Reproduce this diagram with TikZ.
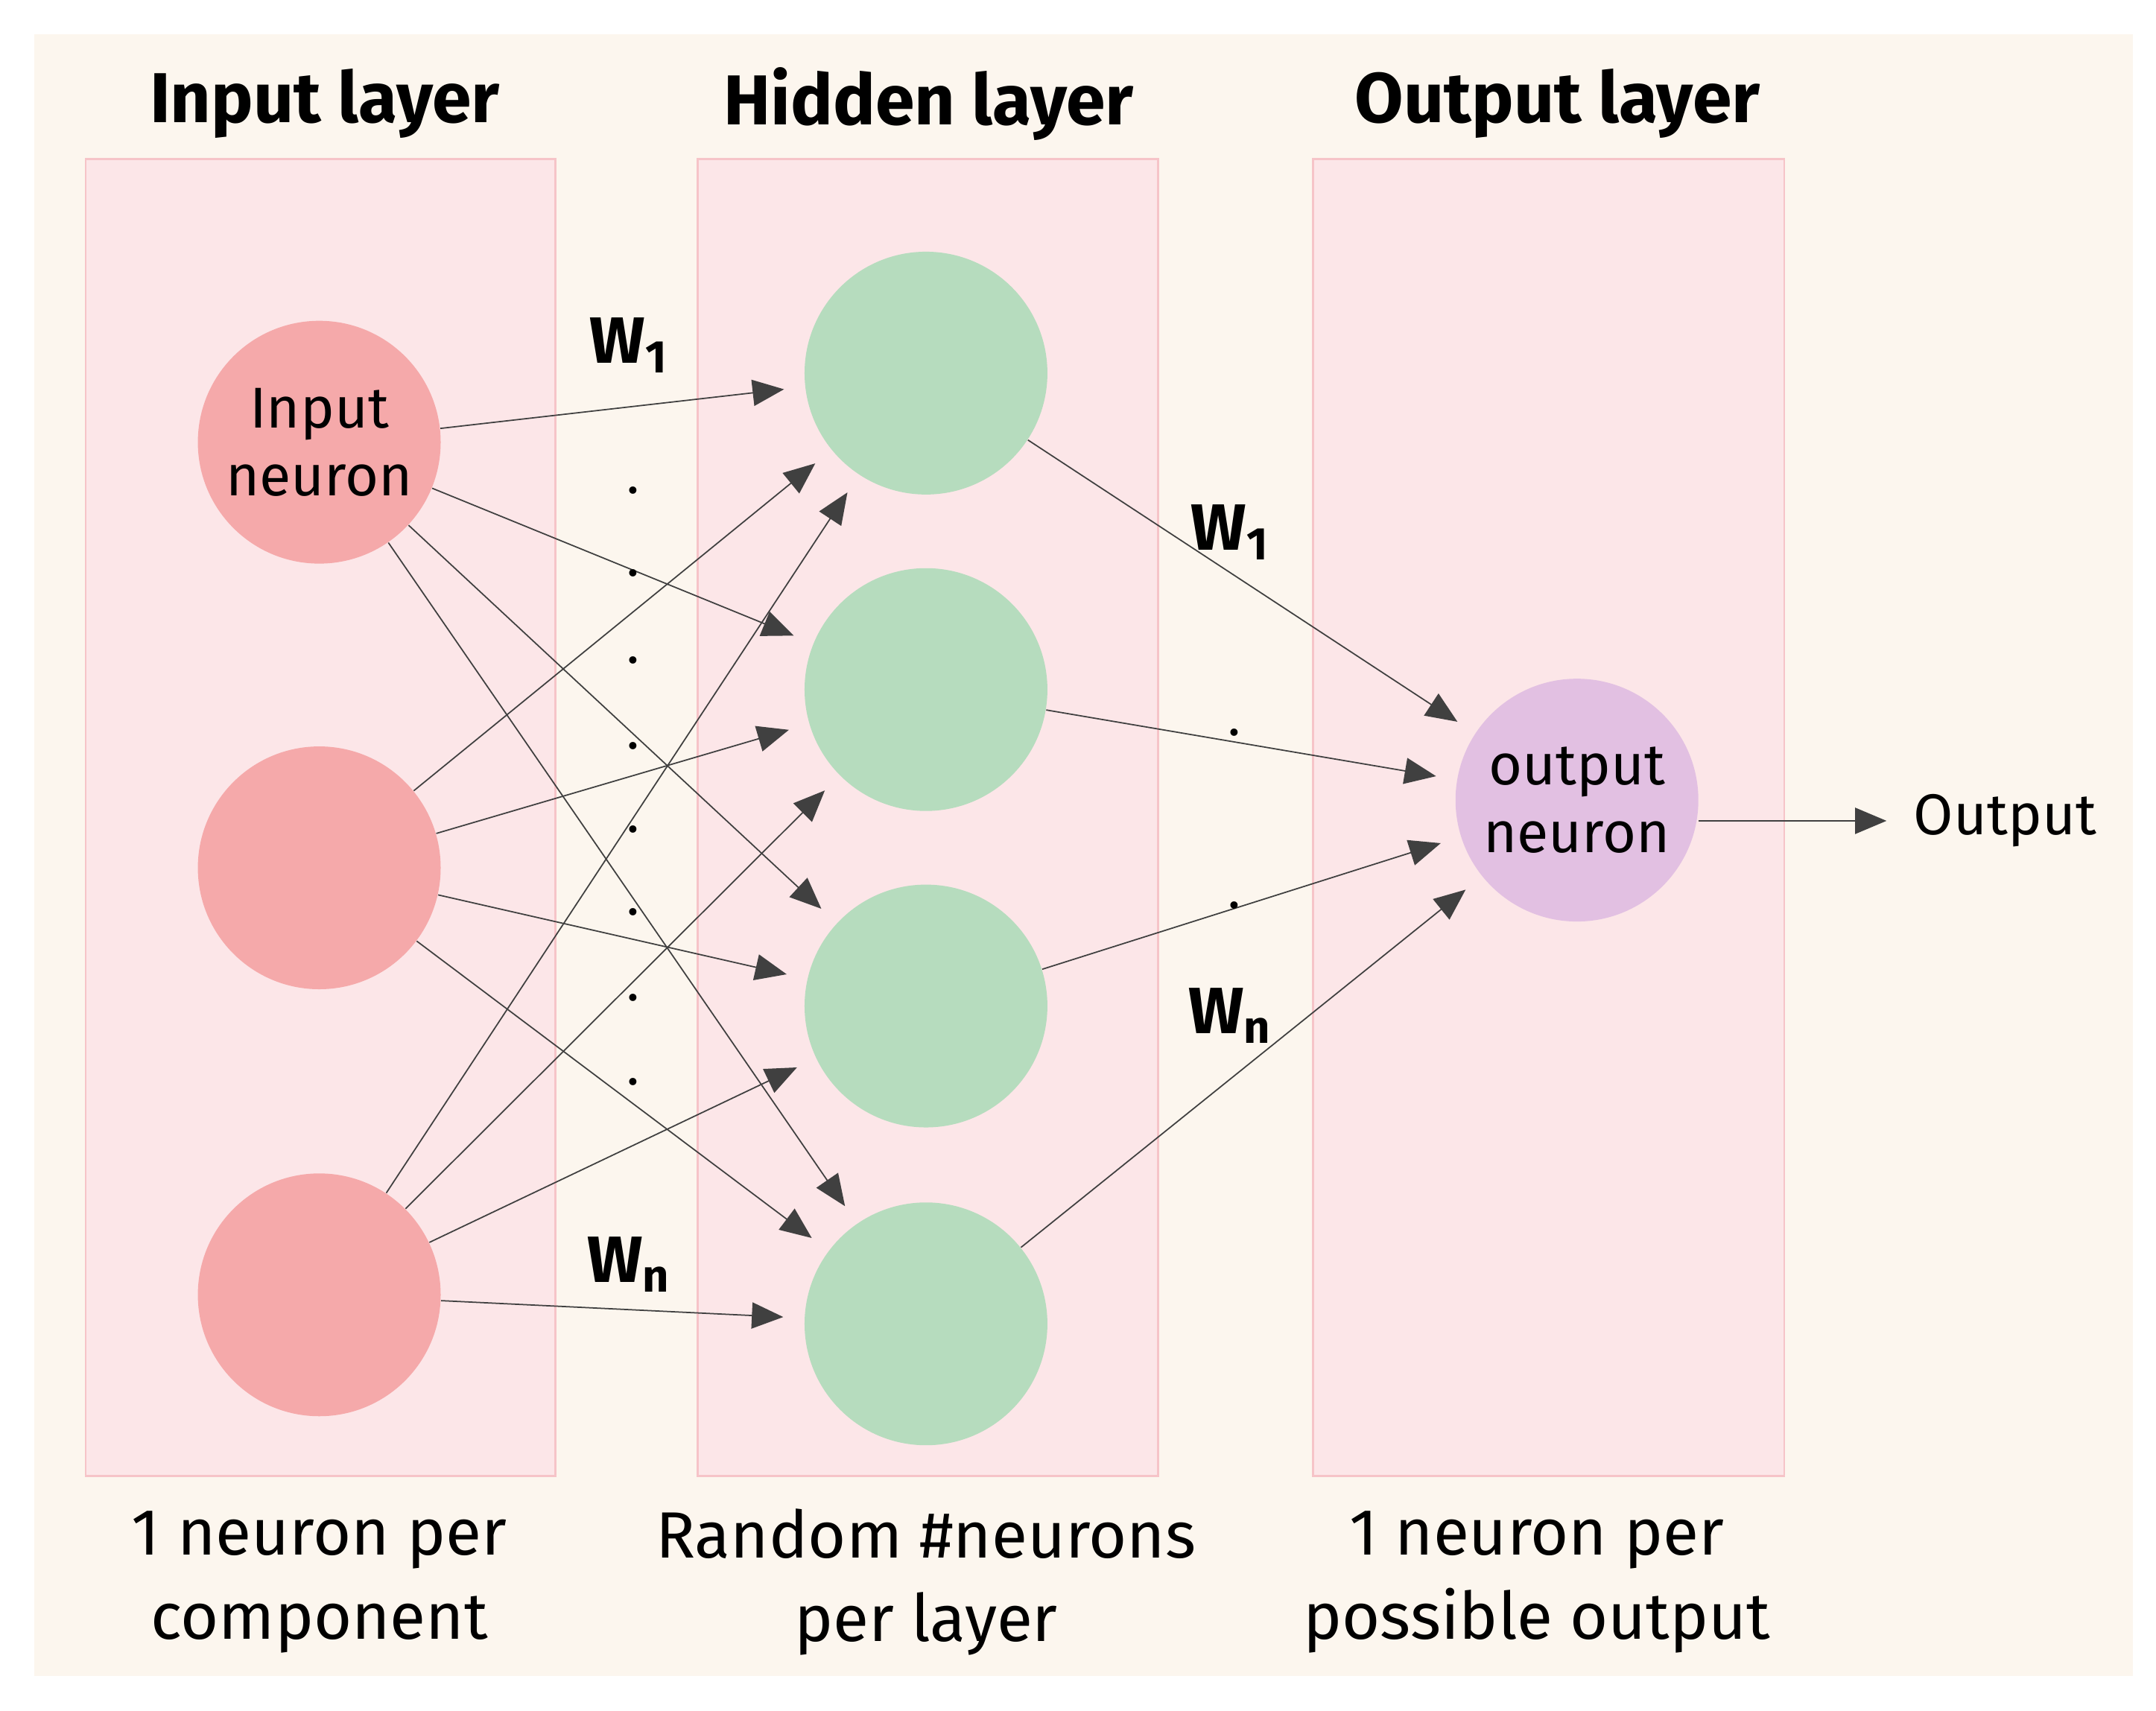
\documentclass[tikz,border=0pt]{standalone}
\usepackage{fontspec}
\setmainfont{Fira Sans}
\usetikzlibrary{arrows.meta}
\definecolor{cream}{HTML}{FCF6EE}
\definecolor{panel}{HTML}{FCE6E8}
\definecolor{panelb}{HTML}{F6C4C8}
\definecolor{inn}{HTML}{F5A9AA}
\definecolor{hid}{HTML}{B6DCBE}
\definecolor{outn}{HTML}{E2C0E2}
\tikzset{
 panel/.style={fill=panel,draw=panelb,line width=0.8pt},
 neu/.style={circle,minimum size=3.26cm,inner sep=0pt,align=center,font=\fontsize{22}{26}\selectfont},
 con/.style={draw=black!75,line width=0.5pt,-{Triangle[length=12pt,width=10pt]},shorten >=8pt},
 ttl/.style={font=\bfseries\fontsize{27}{32}\selectfont},
 captxt/.style={align=center,font=\fontsize{25}{32}\selectfont},
 wl/.style={font=\bfseries\fontsize{25}{30}\selectfont},
 dot/.style={font=\fontsize{20}{20}\selectfont}
}
\begin{document}
\begin{tikzpicture}[x=0.01855cm,y=-0.01855cm]
\useasboundingbox (0,0) rectangle (1560,1238);
\fill[white] (0,0) rectangle (1560,1238);
\fill[cream] (25,25) rectangle (1543,1213);
\draw[panel] (62,115) rectangle (402,1068);
\draw[panel] (505,115) rectangle (838,1068);
\draw[panel] (950,115) rectangle (1291,1068);
\node[ttl] (t1) at (235,75) {Input layer};
\node[ttl] (t2) at (672,75) {Hidden layer};
\node[ttl] (t3) at (1127,75) {Output layer};
\node[neu,fill=inn] (i1) at (231,320) {Input\\neuron};
\node[neu,fill=inn] (i2) at (231,628) {};
\node[neu,fill=inn] (i3) at (231,937) {};
\foreach \k/\y in {1/270,2/499,3/728,4/958} \node[neu,fill=hid] (h\k) at (670,\y) {};
\node[neu,fill=outn] (o) at (1141,579) {output\\neuron};
\coordinate (oe) at (1365,594);
\node[anchor=west,font=\fontsize{22}{26}\selectfont] (ol) at (1378,594) {Output};
\foreach \i in {1,2,3} \foreach \h in {1,2,3,4} \draw[con] (i\i) -- (h\h);
\foreach \h in {1,2,3,4} \draw[con] (h\h) -- (o);
\draw[con,shorten >=0pt] (o.east |- oe) -- (oe);
\node[wl] (w1) at (455,250) {W\textsubscript{1}};
\node[wl] (w2) at (455,915) {W\textsubscript{n}};
\node[wl] (w3) at (890,385) {W\textsubscript{1}};
\node[wl] (w4) at (890,735) {W\textsubscript{n}};
\foreach \y [count=\c] in {355,415,478,540,600,660,722,783} \node[dot] (d\c) at (458,\y) {.};
\node[dot] (e1) at (893,530) {.};
\node[dot] (e2) at (893,655) {.};
\node[captxt] (c1) at (231,1145) {1 neuron per\\component};
\node[captxt] (c2) at (670,1145) {Random \#neurons\\per layer};
\node[captxt] (c3) at (1112,1145) {1 neuron per\\possible output};
\end{tikzpicture}
\end{document}
